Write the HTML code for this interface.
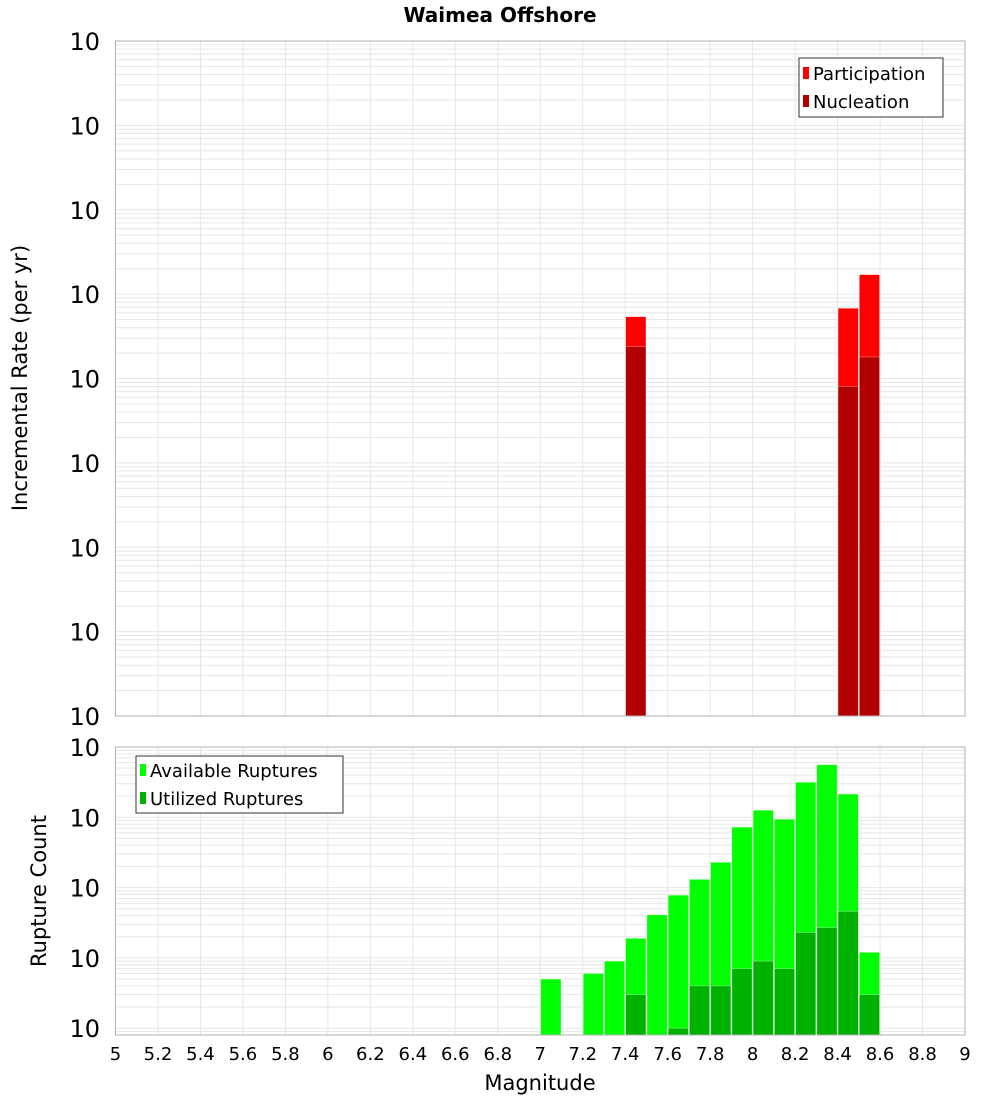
<!DOCTYPE html>
<html><head><meta charset="utf-8"><style>
body{margin:0;background:#fff;}
svg{display:block;font-family:"DejaVu Sans","Liberation Sans",sans-serif;}
</style></head><body>
<svg id="chart" width="1000" height="1100" viewBox="0 0 1000 1100" xmlns="http://www.w3.org/2000/svg">
<text x="500" y="22" text-anchor="middle" font-size="20" font-weight="bold">Waimea Offshore</text>
<g id="top"></g>
<g id="bot"></g>
<text transform="translate(27,378) rotate(-90)" text-anchor="middle" font-size="21">Incremental Rate (per yr)</text>
<text transform="translate(46,891) rotate(-90)" text-anchor="middle" font-size="21">Rupture Count</text>
<text x="540" y="1090" text-anchor="middle" font-size="21">Magnitude</text>
</svg>
<script>
const partMags=[7.45,8.45,8.55];
const partVals=[5.4e-6,6.8e-6,1.7e-5];
const nuclMags=[7.45,8.45,8.55];
const nuclVals=[2.4e-6,8.1e-7,1.8e-6];
const availMags=[7.05,7.25,7.35,7.45,7.55,7.65,7.75,7.85,7.95,8.05,8.15,8.25,8.35,8.45,8.55];
const availVals=[5,6,9,19,41,78,131,229,725,1260,940,3150,5600,2140,12];
const utilMags=[7.45,7.65,7.75,7.85,7.95,8.05,8.15,8.25,8.35,8.45,8.55];
const utilVals=[3,1,4,4,7,9,7,23,27,46,3];
const xTicks=[5,5.2,5.4,5.6,5.8,6,6.2,6.4,6.6,6.8,7,7.2,7.4,7.6,7.8,8,8.2,8.4,8.6,8.8,9];
const topExps=[-2,-3,-4,-5,-6,-7,-8,-9,-10];
const botExps=[0,1,2,3,4];

const NS="http://www.w3.org/2000/svg";
const L=115.5,R=965;
const X=m=>L+(m-5)/(9-5)*(R-L);
function mk(p,tag,a){const e=document.createElementNS(NS,tag);for(const k in a)e.setAttribute(k,a[k]);p.appendChild(e);return e;}
function panel(g,top,bot,lmin,lmax){
  const Y=v=>bot-(Math.log10(v)-lmin)/(lmax-lmin)*(bot-top);
  mk(g,'rect',{x:L,y:top,width:R-L,height:bot-top,fill:'#fff'});
  for(let d=Math.floor(lmin);d<lmax;d++){for(let k=1;k<10;k++){const v=k*Math.pow(10,d);const lv=Math.log10(v);if(lv<lmin||lv>lmax)continue;const y=Y(v);
    const ln=mk(g,'line',{x1:L,x2:R,y1:y,y2:y,stroke:'#e6e6e6','stroke-width':1});
    
    }}
  xTicks.forEach(t=>{const x=X(t);const ln=mk(g,'line',{x1:x,x2:x,y1:top,y2:bot,stroke:'#e6e6e6','stroke-width':1});
    
    });
  return Y;
}
function bar(g,m,v,Y,bot,fill,name){
  const x0=X(m-0.05)+0.5,x1=X(m+0.05)-0.5;
  const r=mk(g,'rect',{x:x0,y:Y(v),width:x1-x0,height:bot-Y(v),fill:fill,stroke:'#ffffff','stroke-opacity':0.5,'stroke-width':0.6});
  
  
}
function ylab(g,x,y,exp,name){
  const t=mk(g,'text',{x:x,y:y,'font-size':24,'text-anchor':'end'});
  
  
  t.textContent='10';
  const s=mk(g,'tspan',{dy:-16,'font-size':16});s.textContent=String(exp);
}
// top panel
const gt=document.getElementById('top');
const tTop=41,tBot=716;
const Yt=panel(gt,tTop,tBot,-10,-2);
partMags.forEach((m,i)=>bar(gt,m,partVals[i],Yt,tBot,'#ff0000','participation-bar'));
nuclMags.forEach((m,i)=>bar(gt,m,nuclVals[i],Yt,tBot,'#b20000','nucleation-bar'));
mk(gt,'rect',{x:L,y:tTop,width:R-L,height:tBot-tTop,fill:'none',stroke:'#b0b0b0'});
topExps.forEach(e=>ylab(gt,100,Yt(Math.pow(10,e))+9,e,'top-y-tick-label'));
// legend top
const lg=mk(gt,'g',{});


mk(lg,'rect',{x:799,y:58,width:144,height:59,fill:'#fff',stroke:'#333'});
mk(lg,'rect',{x:803,y:67,width:6,height:12,fill:'#ff0000'});
mk(lg,'rect',{x:803,y:95,width:6,height:12,fill:'#b20000'});
let t1=mk(lg,'text',{x:813,y:80,'font-size':18});t1.textContent='Participation';


let t2=mk(lg,'text',{x:813,y:108,'font-size':18});t2.textContent='Nucleation';


// bottom panel
const gb=document.getElementById('bot');
const bTop=747,bBot=1035;
const Yb=panel(gb,bTop,bBot,Math.log10(0.8),4);
availMags.forEach((m,i)=>bar(gb,m,availVals[i],Yb,bBot,'#00ff00','available-bar'));
utilMags.forEach((m,i)=>bar(gb,m,utilVals[i],Yb,bBot,'#00b200','utilized-bar'));
mk(gb,'rect',{x:L,y:bTop,width:R-L,height:bBot-bTop,fill:'none',stroke:'#b0b0b0'});
botExps.forEach(e=>ylab(gb,100,Yb(Math.pow(10,e))+9,e,'bottom-y-tick-label'));
xTicks.forEach(t=>{const tx=mk(gb,'text',{x:X(t),y:1060,'font-size':18,'text-anchor':'middle'});
  
  
  tx.textContent=String(t);});
const lb=mk(gb,'g',{});


mk(lb,'rect',{x:136,y:756,width:207,height:57,fill:'#fff',stroke:'#333'});
mk(lb,'rect',{x:140,y:764,width:6,height:12,fill:'#00ff00'});
mk(lb,'rect',{x:140,y:792,width:6,height:12,fill:'#00b200'});
let t3=mk(lb,'text',{x:150,y:777,'font-size':18});t3.textContent='Available Ruptures';


let t4=mk(lb,'text',{x:150,y:805,'font-size':18});t4.textContent='Utilized Ruptures';


</script>
</body></html>
